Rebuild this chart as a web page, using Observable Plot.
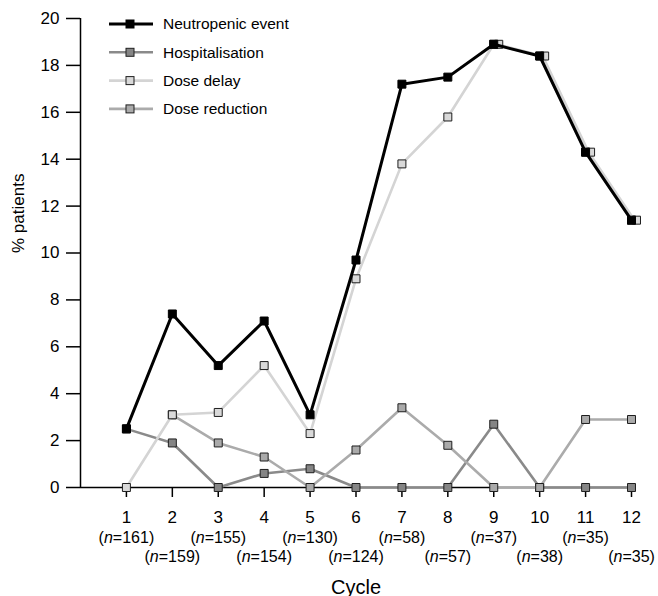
<!DOCTYPE html>
<html>
<head>
<meta charset="utf-8">
<script src="https://cdn.jsdelivr.net/npm/d3@7"></script>
<script src="https://cdn.jsdelivr.net/npm/@observablehq/plot@0.6"></script>
<style>
  html, body { margin: 0; padding: 0; background: #fff; }
  #wrap { position: relative; width: 658px; height: 596px; font-family: "Liberation Sans", Arial, Helvetica, sans-serif; }
  #legend { position: absolute; left: 0; top: 0; }
</style>
</head>
<body>
<div id="wrap"></div>
<script>
// ---- data ----
const cycles = [1, 2, 3, 4, 5, 6, 7, 8, 9, 10, 11, 12];
const nValues = [161, 159, 155, 154, 130, 124, 58, 57, 37, 38, 35, 35];
const neutropenic = [2.5, 7.4, 5.2, 7.1, 3.1, 9.7, 17.2, 17.5, 18.9, 18.4, 14.3, 11.4];
const hospitalisation = [2.5, 1.9, 0, 0.6, 0.8, 0, 0, 0, 2.7, 0, 0, 0];
const doseDelay = [0, 3.1, 3.2, 5.2, 2.3, 8.9, 13.8, 15.8, 18.9, 18.4, 14.3, 11.4];
const doseReduction = [null, 3.1, 1.9, 1.3, 0, 1.6, 3.4, 1.8, 0, 0, 2.9, 2.9];
const yTicks = [0, 2, 4, 6, 8, 10, 12, 14, 16, 18, 20];
const seriesNames = ["Neutropenic event", "Hospitalisation", "Dose delay", "Dose reduction"];
const xLabel = "Cycle";
const yLabel = "% patients";

// ---- styles ----
const styles = {
  "Neutropenic event": {line: "#000000", fill: "#000000", width: 3},
  "Hospitalisation": {line: "#8a8a8a", fill: "#858585", width: 2.6},
  "Dose delay": {line: "#d4d4d4", fill: "#d9d9d9", width: 2.6},
  "Dose reduction": {line: "#ababab", fill: "#aaaaaa", width: 2.6}
};
const seriesValues = {
  "Neutropenic event": neutropenic,
  "Hospitalisation": hospitalisation,
  "Dose delay": doseDelay,
  "Dose reduction": doseReduction
};

const rows = name => cycles.map((c, i) => ({cycle: c, value: seriesValues[name][i]})).filter(d => d.value != null);
const cycleRows = cycles.map((c, i) => ({cycle: c, n: nValues[i], label: `(n=${nValues[i]})`}));

function seriesMarks(name, extra = {}) {
  const s = styles[name];
  const d = rows(name);
  return [
    Plot.line(d, {x: "cycle", y: "value", stroke: s.line, strokeWidth: s.width, ...extra}),
    Plot.dot(d, {x: "cycle", y: "value", symbol: "square", r: 4.5, fill: s.fill,
      stroke: name === "Neutropenic event" ? "#000" : "#1e1e1e", strokeWidth: 1, ...extra})
  ];
}

// overlapping delay points (identical to neutropenic) drawn slightly shifted, as in the reference
const overlapDelay = cycles.map((c, i) => ({cycle: c, value: doseDelay[i], same: doseDelay[i] === neutropenic[i]}))
  .filter((d, i) => d.same && i >= 8);

const font = '"Liberation Sans", Arial, Helvetica, sans-serif';

const chart = Plot.plot({
  width: 658,
  height: 596,
  marginTop: 18,
  marginBottom: 109,
  marginLeft: 80,
  marginRight: 27,
  style: {fontFamily: font, background: "#fff", color: "#000"},
  x: {domain: [0, 12]},
  y: {domain: [0, 20]},
  marks: [
    Plot.ruleY([0], {stroke: "#000", strokeWidth: 1.5}),
    Plot.ruleX([0], {stroke: "#000", strokeWidth: 1.5}),
    Plot.axisY({ticks: yTicks, tickSize: 14, tickPadding: 7, fontSize: 17, label: null, strokeWidth: 1.5}),
    Plot.axisX({ticks: cycles, tickSize: 10, tickPadding: 13, fontSize: 17, label: null, strokeWidth: 1.5}),
    Plot.text(cycleRows.filter(d => d.cycle % 2 === 1), {x: "cycle", y: () => 0, text: "label", fontSize: 16, lineAnchor: "bottom", dy: 55}),
    Plot.text(cycleRows.filter(d => d.cycle % 2 === 0), {x: "cycle", y: () => 0, text: "label", fontSize: 16, lineAnchor: "bottom", dy: 74}),
    Plot.text([xLabel], {frameAnchor: "bottom", fontSize: 20, lineAnchor: "bottom", dy: 106}),
    Plot.text([yLabel], {frameAnchor: "left", fontSize: 17, rotate: -90, dx: -62}),
    ...seriesMarks("Hospitalisation"),
    ...seriesMarks("Dose reduction"),
    ...seriesMarks("Dose delay"),
    Plot.line(overlapDelay, {x: "cycle", y: "value", stroke: styles["Dose delay"].line, strokeWidth: 2.6, dx: 3}),
    Plot.dot(overlapDelay, {x: "cycle", y: "value", symbol: "square", r: 4.5, fill: styles["Dose delay"].fill, stroke: "#1e1e1e", strokeWidth: 1, dx: 5}),
    ...seriesMarks("Neutropenic event")
  ]
});

// italic "n" in the sample-size labels
d3.select(chart).selectAll("text").each(function () {
  const m = this.textContent.match(/^\(n=(\d+)\)$/);
  if (m) {
    const t = d3.select(this);
    t.text("");
    t.append("tspan").text("(");
    t.append("tspan").attr("font-style", "italic").text("n");
    t.append("tspan").text(`=${m[1]})`);
  }
});

const wrap = document.getElementById("wrap");
wrap.appendChild(chart);

// legend overlay
const leg = d3.select(wrap).append("svg").attr("id", "legend")
  .attr("width", 320).attr("height", 130)
  .style("font-family", font);
seriesNames.forEach((name, i) => {
  const s = styles[name];
  const cy = 24 + i * 28.3;
  const g = leg.append("g").attr("transform", `translate(0,${cy})`);
  g.append("line").attr("x1", 109).attr("x2", 153).attr("y1", 0).attr("y2", 0)
    .attr("stroke", s.line).attr("stroke-width", s.width);
  g.append("rect").attr("x", 126).attr("y", -4).attr("width", 8).attr("height", 8)
    .attr("fill", s.fill).attr("stroke", name === "Neutropenic event" ? "#000" : "#1e1e1e").attr("stroke-width", 1);
  g.append("text").attr("x", 163).attr("y", 0).attr("dy", "0.35em")
    .attr("font-size", 15.5).attr("fill", "#000").text(name);
});
</script>
</body>
</html>
